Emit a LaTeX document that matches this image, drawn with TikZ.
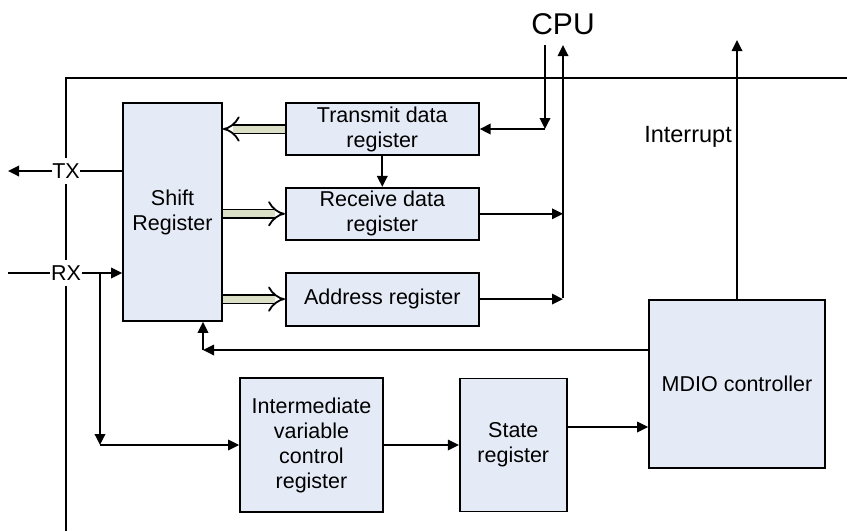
\documentclass[tikz,border=0pt]{standalone}
\usepackage{fontspec}
\setmainfont{Liberation Sans}
\usetikzlibrary{positioning,arrows.meta,calc}
\definecolor{RegBlue}{HTML}{E5EBF6}
\definecolor{BusKhaki}{HTML}{DBDFC6}

\begin{document}
\begin{tikzpicture}[
    x=1pt, y=-1pt,
    font=\fontsize{21.5}{25}\selectfont,
    reg/.style={
      draw, fill=RegBlue, line width=1.8pt, align=center,
      inner sep=0pt, minimum width=193pt, minimum height=52pt
    },
    arr/.style={-{Triangle[length=11pt,width=10.5pt]}, line width=1.8pt},
    wire/.style={line width=1.8pt},
    fat/.style={double=BusKhaki, double distance=7pt, line width=1.8pt, -{Implies}},
    pinlbl/.style={fill=white, inner xsep=0.5pt, inner ysep=6pt}
  ]
  \useasboundingbox (0,0) rectangle (847,531);
  % chip outline
  \draw[line width=2pt] (66,531) -- (66,78) -- (847,78);

  \node[reg, minimum width=99pt, minimum height=218pt] (shift) at (172.5,212) {Shift\\Register};
  \node[reg, right=62pt of shift.north east, anchor=north west] (trans) {Transmit data\\register};
  \node[reg, below=31pt of trans] (recv) {Receive data\\register};
  \node[reg, below=31pt of recv, minimum height=53pt] (addr) {Address register};
  \node[reg, minimum width=143pt, minimum height=134pt] (ivc) at (311.5,445) {Intermediate\\variable\\control\\register};
  \node[reg, minimum width=107pt, minimum height=133pt, right=75pt of ivc] (state) {State\\register};
  \node[reg, minimum width=176pt, minimum height=168pt] (mdio) at (737,384) {MDIO controller};

  \node[pinlbl] (tx) at (66,171) {TX};
  \node[pinlbl] (rx) at (66,273) {RX};
  \node[font=\fontsize{30}{34}\selectfont] (cpu) at (563,24) {CPU};
  \node[anchor=east, inner sep=0pt, font=\fontsize{23.5}{27}\selectfont] (irq) at (732,137) {Interrupt};

  \coordinate (txout) at (8,171);
  \coordinate (rxin) at (8,273);
  \coordinate (rxtap) at (100,273);
  \coordinate (rxdown) at (100,445);
  \coordinate (cpuin) at (545,45);
  \coordinate (cpuhit) at (545,129);
  \coordinate (busbot) at (563,298);
  \coordinate (bustop) at (563,45);
  \coordinate (irqtop) at (737,40);
  \coordinate (fbturn) at (203,350);

  % serial side
  \draw[wire] (shift.west |- tx) -- (tx.east);
  \draw[arr] (tx.west) -- (txout);
  \draw[wire] (rxin) -- (rx.west);
  \draw[arr] (rx.east) -- (shift.west |- rx);
  \draw[arr] (rxtap) -- (rxdown);
  \draw[arr] (rxdown) -- (ivc.west);

  % parallel buses
  \draw[fat] (trans.west) -- (trans.west -| shift.east);
  \draw[fat] (shift.east |- recv.west) -- (recv.west);
  \draw[fat] (shift.east |- addr.west) -- (addr.west);
  \draw[arr] (trans.south) -- (recv.north);

  % cpu side
  \draw[arr] (cpuin) -- (cpuhit);
  \draw[arr] (cpuhit) -- (trans.east);
  \draw[arr] (busbot) -- (bustop);
  \draw[arr] (recv.east) -- (recv.east -| busbot);
  \draw[arr] (addr.east) -- (addr.east -| busbot);

  % control
  \draw[arr] (mdio.north) -- (irqtop);
  \draw[arr] (mdio.west |- fbturn) -- (fbturn);
  \draw[arr] (fbturn) -- (fbturn |- shift.south);
  \draw[arr] (ivc) -- (state);
  \draw[arr] ([yshift=18pt]state.east) -- ([yshift=18pt]state.east -| mdio.west);
\end{tikzpicture}
\end{document}
